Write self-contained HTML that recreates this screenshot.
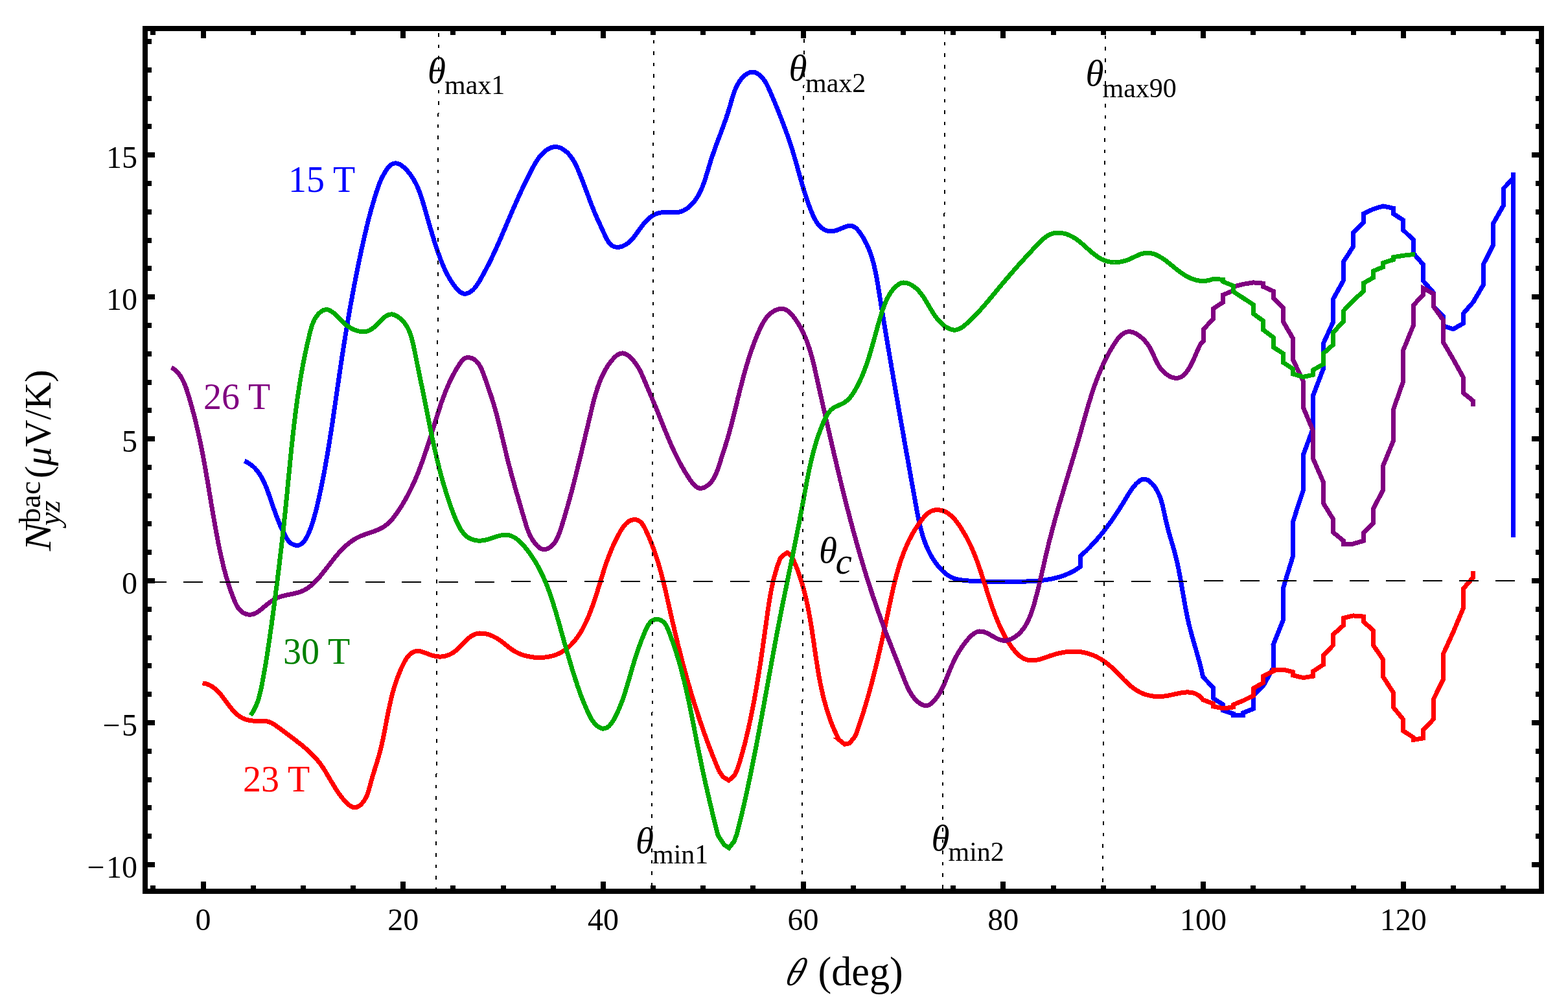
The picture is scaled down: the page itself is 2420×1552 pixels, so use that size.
<!DOCTYPE html>
<html lang="en"><head><meta charset="utf-8"><title>Nernst angular dependence</title>
<style>
html,body{margin:0;padding:0;background:#fff}
body{width:2420px;height:1552px;overflow:hidden}
svg{display:block}
text{font-family:"Liberation Serif","DejaVu Serif",serif;fill:#000}
.tk{font-size:48px}
.cl{font-size:56px}
.it{font-style:italic}
.c{fill:none;stroke-width:7;stroke-linejoin:miter;stroke-linecap:butt}
</style></head><body>
<svg width="2420" height="1552" viewBox="0 0 2420 1552">
<rect x="0" y="0" width="2420" height="1552" fill="#fff"/>
<g class="c" shape-rendering="crispEdges">
<path stroke="#0000ff" d="M377.2 711.3L380.8 712.9L384.2 714.8L387.4 717L390.4 719.4L393.2 722.1L395.8 724.9L398.2 728L400.5 731.2L402.6 734.6L404.6 738.1L406.4 741.8L408.2 745.5L409.9 749.3L411.4 753.1L412.9 757L414.3 760.9L415.7 764.8L417.1 768.7L418.4 772.5L419.6 776.3L420.9 780L422.2 783.7L423.5 787.3L424.8 791L426.1 794.6L427.5 798.2L428.9 801.9L430.4 805.5L431.9 809.2L433.5 812.9L435.3 816.6L437.1 820.4L439 824.2L441.1 828L443.3 831.7L445.8 835.1L448.7 837.9L452 839.9L455.5 841.1L458.9 841.5L462.1 840.8L465 839.3L467.6 837.1L470 834.3L472.2 830.9L474.2 827.2L476.1 823.3L477.8 819.2L479.3 815.1L480.8 811L482.1 807L483.4 803L484.6 799.1L485.7 795.2L486.7 791.3L487.7 787.5L488.7 783.6L489.6 779.8L490.5 776L491.4 772.1L492.2 768.3L493.1 764.4L493.9 760.5L494.7 756.7L495.6 752.8L496.4 748.9L497.1 745L497.9 741.1L498.7 737.2L499.4 733.3L500.2 729.4L500.9 725.5L501.6 721.6L502.3 717.7L503 713.7L503.7 709.8L504.4 705.9L505.1 701.9L505.8 698L506.4 694L507.1 690.1L507.7 686.1L508.4 682.1L509 678.2L509.6 674.2L510.2 670.3L510.9 666.3L511.5 662.3L512.1 658.3L512.7 654.4L513.3 650.4L513.9 646.4L514.5 642.4L515 638.5L515.6 634.5L516.2 630.5L516.8 626.5L517.4 622.5L517.9 618.6L518.5 614.6L519.1 610.6L519.7 606.6L520.2 602.6L520.8 598.6L521.4 594.7L522 590.7L522.5 586.7L523.1 582.7L523.7 578.8L524.3 574.8L524.9 570.8L525.5 566.9L526 562.9L526.6 558.9L527.2 555L527.8 551L528.5 547.1L529.1 543.1L529.7 539.1L530.3 535.2L530.9 531.3L531.5 527.3L532.2 523.4L532.8 519.4L533.5 515.5L534.1 511.5L534.8 507.6L535.4 503.7L536.1 499.7L536.7 495.8L537.4 491.9L538.1 487.9L538.8 484L539.4 480.1L540.1 476.1L540.8 472.2L541.5 468.3L542.3 464.4L543 460.4L543.7 456.5L544.4 452.6L545.2 448.6L545.9 444.7L546.6 440.8L547.4 436.9L548.2 432.9L548.9 429L549.7 425.1L550.5 421.2L551.3 417.2L552.1 413.3L552.9 409.4L553.7 405.4L554.5 401.5L555.3 397.6L556.2 393.6L557 389.7L557.8 385.8L558.7 381.8L559.6 377.9L560.4 374L561.3 370L562.2 366.1L563.1 362.2L564 358.2L565 354.3L565.9 350.4L566.9 346.5L567.8 342.6L568.8 338.7L569.8 334.9L570.8 331L571.9 327.1L572.9 323.3L574 319.5L575.1 315.7L576.2 311.9L577.3 308.1L578.4 304.3L579.6 300.6L580.7 296.9L582 293.2L583.2 289.5L584.6 285.8L586 282.1L587.6 278.3L589.3 274.6L591.3 270.8L593.4 267L595.8 263.1L598.4 259.4L601.2 256.2L604.1 253.7L607.2 252.2L610.4 251.8L613.7 252.3L616.9 253.6L620.2 255.6L623.3 258.2L626.4 261.1L629.3 264.2L632 267.5L634.4 270.8L636.7 274.3L638.9 277.8L640.8 281.3L642.7 284.9L644.4 288.6L645.9 292.3L647.4 296.1L648.8 299.9L650.1 303.7L651.3 307.5L652.5 311.4L653.7 315.2L654.8 319.1L655.9 322.9L657 326.8L658.1 330.6L659.2 334.5L660.3 338.3L661.4 342.1L662.5 346L663.6 349.8L664.7 353.6L665.9 357.4L667 361.2L668.2 365L669.3 368.8L670.5 372.6L671.7 376.4L673 380.2L674.2 384L675.5 387.7L676.8 391.5L678.2 395.3L679.6 399L681 402.8L682.5 406.5L684 410.2L685.7 413.9L687.4 417.6L689.2 421.2L691 424.8L693 428.3L695.1 431.8L697.3 435.3L699.6 438.7L702.1 442.1L704.7 445.3L707.4 448.3L710.3 450.7L713.3 452.4L716.6 453.3L720 453L723.4 451.8L726.8 449.8L729.9 447.2L732.7 444.3L735.2 441.1L737.5 437.7L739.7 434.2L741.8 430.6L743.8 426.9L745.8 423.3L747.8 419.7L749.7 416L751.6 412.4L753.5 408.8L755.3 405.1L757.1 401.5L758.9 397.9L760.6 394.2L762.3 390.6L764 386.9L765.7 383.3L767.3 379.6L769 376L770.6 372.3L772.2 368.7L773.8 365L775.3 361.4L776.9 357.7L778.5 354.1L780 350.4L781.6 346.8L783.1 343.1L784.7 339.5L786.2 335.8L787.8 332.2L789.3 328.6L790.9 324.9L792.5 321.3L794.1 317.7L795.7 314L797.3 310.4L798.9 306.8L800.6 303.2L802.2 299.5L803.9 295.9L805.6 292.3L807.3 288.7L809.1 285L810.8 281.4L812.6 277.8L814.4 274.1L816.2 270.4L818.1 266.8L819.9 263.1L821.8 259.4L823.8 255.8L825.8 252.2L828 248.7L830.2 245.3L832.6 242.1L835.1 239.1L837.9 236.2L840.8 233.6L843.9 231.2L847.3 229.2L850.9 227.6L854.6 226.6L858.4 226.5L862.2 227.2L865.9 228.6L869.4 230.6L872.6 232.9L875.6 235.4L878.3 238.3L880.8 241.3L883.1 244.6L885.3 248.1L887.3 251.7L889.1 255.3L890.9 259.1L892.5 263L894.1 266.8L895.7 270.6L897.2 274.5L898.7 278.3L900.2 282L901.6 285.8L903 289.6L904.4 293.3L905.8 297L907.2 300.7L908.6 304.4L909.9 308.1L911.3 311.7L912.7 315.4L914.1 319L915.6 322.6L917 326.2L918.5 329.7L920.1 333.3L921.6 336.9L923.2 340.4L924.9 344L926.6 347.7L928.3 351.4L930.1 355.3L931.9 359.3L933.8 363.4L935.8 367.5L938 371.4L940.3 374.9L942.9 377.8L945.9 379.8L949.1 380.9L952.5 381.4L956 381.1L959.5 380.3L963 378.9L966.4 377L969.5 374.8L972.5 372.2L975.3 369.3L977.9 366.2L980.4 363L982.9 359.6L985.3 356.2L987.8 352.7L990.3 349.3L992.9 346L995.6 342.8L998.4 339.8L1001.4 337L1004.5 334.6L1007.8 332.4L1011.3 330.6L1014.9 329.2L1018.7 328.2L1022.6 327.7L1026.6 327.5L1030.8 327.6L1034.9 327.8L1039 328L1043.1 327.9L1047 327.4L1050.8 326.5L1054.4 325L1057.8 323.2L1061.1 321L1064.1 318.5L1067 315.8L1069.7 312.9L1072.2 309.8L1074.5 306.5L1076.7 303.2L1078.6 299.8L1080.5 296.2L1082.2 292.6L1083.8 288.9L1085.2 285.2L1086.6 281.4L1087.9 277.5L1089.2 273.6L1090.4 269.7L1091.6 265.8L1092.8 261.9L1093.9 258L1095.1 254.1L1096.3 250.2L1097.5 246.3L1098.8 242.5L1100.1 238.7L1101.4 234.9L1102.7 231.2L1104.1 227.5L1105.4 223.7L1106.8 220L1108.2 216.3L1109.6 212.6L1111 208.9L1112.4 205.2L1113.7 201.5L1115.1 197.8L1116.5 194.1L1117.8 190.3L1119.2 186.6L1120.5 182.8L1121.7 179L1123 175.2L1124.2 171.4L1125.4 167.5L1126.6 163.6L1127.7 159.6L1128.8 155.7L1130 151.8L1131.2 147.8L1132.5 144L1133.8 140.2L1135.4 136.4L1137 132.8L1138.9 129.3L1141 126L1143.3 122.7L1145.9 119.7L1148.8 116.9L1151.9 114.5L1155.2 112.6L1158.6 111.4L1162.2 111.1L1165.7 111.8L1169.3 113.5L1172.7 116L1175.8 119L1178.5 122.3L1180.8 125.7L1182.9 129.2L1184.7 132.9L1186.4 136.5L1188 140.2L1189.6 143.8L1191.2 147.5L1192.8 151.2L1194.3 154.8L1195.9 158.5L1197.4 162.2L1198.9 165.8L1200.4 169.5L1201.8 173.2L1203.3 176.9L1204.8 180.6L1206.2 184.3L1207.6 188.1L1209.1 191.8L1210.5 195.6L1211.9 199.4L1213.3 203.2L1214.7 207L1216 210.8L1217.4 214.6L1218.7 218.4L1219.9 222.2L1221.2 226L1222.4 229.8L1223.5 233.7L1224.7 237.5L1225.8 241.3L1226.9 245.1L1228 248.9L1229.1 252.7L1230.2 256.5L1231.2 260.4L1232.3 264.2L1233.4 268L1234.4 271.8L1235.5 275.6L1236.6 279.5L1237.7 283.3L1238.8 287.1L1240 291L1241.2 294.8L1242.4 298.6L1243.6 302.5L1244.9 306.3L1246.2 310.2L1247.6 314L1249 317.9L1250.4 321.7L1252 325.6L1253.6 329.4L1255.2 333.3L1257 337L1259 340.5L1261.1 343.9L1263.4 347L1266 349.8L1268.9 352.2L1272 354.3L1275.5 355.8L1279.1 356.8L1283 357L1286.9 356.5L1290.9 355.4L1295.1 353.9L1299.2 352.1L1303.3 350.4L1307.3 349L1311.1 348.3L1314.7 348.4L1317.9 349.7L1320.9 351.8L1323.6 354.5L1326.2 357.6L1328.5 361L1330.8 364.4L1332.8 367.8L1334.8 371.3L1336.6 374.9L1338.4 378.4L1340 382.1L1341.5 385.7L1342.9 389.5L1344.2 393.2L1345.4 397L1346.6 400.8L1347.7 404.6L1348.7 408.5L1349.6 412.4L1350.5 416.3L1351.3 420.2L1352.1 424.2L1352.9 428.1L1353.6 432.1L1354.3 436.1L1355 440L1355.6 444L1356.3 448L1356.9 452L1357.5 456L1358.2 460L1358.8 463.9L1359.5 467.9L1360.1 471.9L1360.8 475.9L1361.4 479.8L1362.1 483.8L1362.7 487.8L1363.4 491.7L1364.1 495.7L1364.7 499.7L1365.4 503.6L1366 507.6L1366.7 511.5L1367.3 515.5L1368 519.5L1368.7 523.4L1369.3 527.4L1370 531.3L1370.7 535.3L1371.3 539.2L1372 543.1L1372.7 547.1L1373.3 551L1374 555L1374.7 558.9L1375.4 562.8L1376 566.8L1376.7 570.7L1377.4 574.7L1378.1 578.6L1378.7 582.5L1379.4 586.5L1380.1 590.4L1380.8 594.3L1381.4 598.3L1382.1 602.2L1382.8 606.1L1383.5 610.1L1384.2 614L1384.9 617.9L1385.6 621.9L1386.2 625.8L1386.9 629.7L1387.6 633.7L1388.3 637.6L1389 641.5L1389.7 645.5L1390.4 649.4L1391.1 653.3L1391.8 657.3L1392.5 661.2L1393.2 665.1L1393.9 669.1L1394.6 673L1395.2 676.9L1395.9 680.9L1396.6 684.8L1397.3 688.7L1398 692.7L1398.7 696.6L1399.5 700.6L1400.2 704.5L1400.9 708.5L1401.6 712.4L1402.3 716.3L1403 720.3L1403.7 724.2L1404.4 728.2L1405.1 732.1L1405.8 736.1L1406.5 740.1L1407.2 744L1407.9 748L1408.6 751.9L1409.4 755.9L1410.1 759.9L1410.8 763.8L1411.5 767.8L1412.2 771.8L1412.9 775.7L1413.6 779.7L1414.4 783.7L1415.1 787.7L1415.8 791.6L1416.6 795.6L1417.4 799.5L1418.2 803.5L1419.1 807.4L1420 811.3L1421 815.2L1422 819L1423.1 822.9L1424.2 826.7L1425.4 830.5L1426.7 834.2L1428 837.9L1429.5 841.6L1431 845.2L1432.7 848.8L1434.4 852.3L1436.2 855.8L1438.2 859.3L1440.3 862.6L1442.5 866L1444.8 869.3L1447.3 872.5L1449.9 875.6L1452.6 878.6L1455.5 881.5L1458.5 884.2L1461.7 886.7L1465.1 888.8L1468.6 890.7L1472.2 892.2L1476 893.4L1479.9 894.3L1483.9 894.9L1487.9 895.4L1492 895.8L1496 896.1L1500.1 896.3L1504.1 896.5L1508.2 896.7L1512.2 896.9L1516.2 897L1520.2 897.1L1524.2 897.2L1528.2 897.3L1532.2 897.3L1536.2 897.4L1540.2 897.4L1544.2 897.4L1548.1 897.4L1552.1 897.4L1556.1 897.3L1560.1 897.3L1564.1 897.3L1568.1 897.3L1572.1 897.2L1576 897.2L1580 897.1L1584 897L1588 896.9L1592 896.7L1596 896.4L1600 896.2L1604 895.8L1607.9 895.4L1611.9 894.9L1615.8 894.3L1619.8 893.7L1623.7 892.9L1627.6 892L1631.5 891.1L1635.4 890L1639.2 888.8L1643 887.4L1646.7 885.9L1650.4 884.3L1654 882.6L1657.5 880.7L1660.9 878.6L1664.2 876.4L1667.4 874L1667.4 858L1670.5 855.2L1673.4 852.5L1676.4 849.7L1679.2 846.8L1682.1 844L1684.8 841.1L1687.6 838.1L1690.2 835.2L1692.9 832.2L1695.5 829.2L1698.1 826.1L1700.6 823.1L1703.1 820L1705.5 816.8L1707.9 813.7L1710.3 810.5L1712.7 807.3L1715 804.1L1717.3 800.8L1719.5 797.5L1721.8 794.2L1724 790.9L1726.2 787.5L1728.3 784.2L1730.5 780.7L1732.6 777.3L1734.7 773.9L1736.8 770.4L1738.9 766.9L1741 763.4L1743.2 760L1745.5 756.5L1747.9 753.1L1750.5 749.8L1753.3 746.6L1756.4 743.7L1759.6 741.2L1762.9 739.6L1766.3 739.2L1769.5 739.9L1772.7 741.5L1775.7 743.8L1778.5 746.5L1781 749.5L1783.3 752.7L1785.3 756L1787.1 759.5L1788.8 763.1L1790.3 766.8L1791.6 770.6L1792.8 774.5L1793.9 778.5L1794.9 782.5L1795.8 786.5L1796.7 790.6L1797.6 794.7L1798.4 798.7L1799.3 802.8L1800.3 806.8L1801.3 810.7L1802.3 814.7L1803.3 818.6L1804.4 822.4L1805.5 826.2L1806.6 830.1L1807.7 833.9L1808.8 837.7L1809.9 841.5L1811 845.2L1812.1 849L1813.1 852.8L1814.1 856.7L1815.1 860.5L1816 864.3L1816.9 868.2L1817.7 872.1L1818.6 876L1819.4 879.9L1820.1 883.9L1820.9 887.8L1821.6 891.8L1822.3 895.7L1823 899.7L1823.7 903.7L1824.4 907.7L1825.1 911.7L1825.8 915.6L1826.5 919.6L1827.2 923.6L1827.9 927.6L1828.6 931.6L1829.3 935.6L1830 939.5L1830.8 943.5L1831.6 947.4L1832.4 951.4L1833.2 955.3L1834.1 959.2L1835 963.1L1836 967L1837 970.9L1838 974.8L1839 978.6L1840.1 982.5L1841.2 986.3L1842.3 990.1L1843.4 993.9L1844.5 997.8L1845.6 1001.6L1846.7 1005.4L1847.8 1009.3L1848.9 1013.1L1849.9 1017L1851 1020.8L1852 1024.7L1853 1028.6L1853.9 1032.5L1854.9 1036.4L1855.7 1040.4L1856.6 1044.4L1872.4 1060.7L1872.4 1077.1L1887.9 1087.2L1887.9 1096L1903.3 1101.1L1903.3 1103.6L1918.7 1103.6L1918.7 1099.8L1934.2 1093.5L1934.2 1073.3L1949.6 1058.2L1965 1030.5L1965 995.2L1980.5 956.2L1980.5 907L1995.9 856.6L1995.9 803.7L2011.4 755.9L2011.4 701.7L2026.8 660.1L2026.8 609.7L2042.2 569.4L2042.2 530.4L2057.7 496.4L2057.7 461.1L2073.1 433.4L2073.1 404.4L2088.5 380.5L2088.5 359.1L2104 344L2104 330.1L2119.4 322.5L2134.8 318L2150.3 321.3L2150.3 329.6L2165.7 339.7L2165.7 354.8L2181.1 369.9L2181.1 390.6L2196.6 408.2L2196.6 433.4L2212 451L2212 472.4L2227.4 487.5L2227.4 502.7L2242.9 507.7L2258.3 498.9L2258.3 483.8L2273.7 466.1L2289.2 439.7L2289.2 408.2L2304.6 378L2304.6 344.7L2320.1 317.5L2320.1 291L2335.5 275.2L2335.5 265.8"/>
<path stroke="#0000ff" d="M2335.5 265.8L2335.5 829"/>
<path stroke="#ff0000" d="M312.5 1053.9L316.6 1054.6L320.4 1055.7L324 1057.3L327.4 1059.2L330.5 1061.4L333.5 1063.9L336.4 1066.7L339.1 1069.6L341.7 1072.7L344.2 1076L346.7 1079.3L349.2 1082.6L351.7 1086L354.2 1089.3L356.7 1092.5L359.3 1095.6L362 1098.6L364.9 1101.3L367.8 1103.8L371 1106L374.4 1107.9L377.9 1109.4L381.7 1110.6L385.6 1111.5L389.6 1112L393.7 1112.3L397.9 1112.3L402.2 1112.1L406.3 1112.1L410.3 1112.4L414 1113.3L417.6 1114.6L420.9 1116.3L424.2 1118.4L427.4 1120.6L430.6 1122.9L433.8 1125.3L437 1127.7L440.2 1130.1L443.5 1132.5L446.7 1134.9L450 1137.4L453.2 1139.8L456.5 1142.3L459.7 1144.8L462.9 1147.3L466.1 1149.8L469.2 1152.4L472.2 1155L475.3 1157.7L478.2 1160.4L481.1 1163.2L483.9 1166L486.6 1168.9L489.2 1171.9L491.7 1174.9L494.1 1178L496.4 1181.2L498.6 1184.4L500.7 1187.7L502.8 1191.1L504.8 1194.5L506.8 1197.9L508.8 1201.3L510.8 1204.8L512.9 1208.2L514.9 1211.7L517 1215.1L519.2 1218.6L521.5 1222L523.9 1225.4L526.3 1228.7L529 1232L531.7 1235.2L534.7 1238.3L537.7 1241.1L540.9 1243.5L544.1 1245.1L547.3 1245.8L550.5 1245.3L553.7 1243.8L556.7 1241.5L559.5 1238.5L562.1 1235.1L564.3 1231.3L566.2 1227.5L567.7 1223.7L568.9 1219.8L570 1216L571 1212.2L572 1208.3L573.1 1204.5L574.2 1200.6L575.3 1196.8L576.5 1192.9L577.7 1189L578.9 1185.2L580.1 1181.3L581.3 1177.4L582.5 1173.5L583.6 1169.7L584.8 1165.8L585.8 1161.9L586.9 1158L587.8 1154.1L588.8 1150.2L589.7 1146.3L590.5 1142.5L591.4 1138.6L592.2 1134.7L593 1130.8L593.7 1126.9L594.5 1123L595.2 1119.1L596 1115.2L596.7 1111.3L597.5 1107.4L598.2 1103.5L599 1099.6L599.8 1095.7L600.6 1091.8L601.5 1087.9L602.3 1084L603.2 1080.2L604.1 1076.3L605.1 1072.4L606.1 1068.5L607.2 1064.7L608.3 1060.8L609.5 1056.9L610.8 1053.1L612.1 1049.2L613.5 1045.4L614.9 1041.5L616.5 1037.7L618.1 1033.8L619.8 1030L621.6 1026.2L623.5 1022.4L625.5 1018.8L627.7 1015.3L630 1012.2L632.5 1009.5L635.3 1007.3L638.3 1005.6L641.5 1004.6L645 1004.4L648.7 1004.9L652.7 1006L656.8 1007.4L661 1009L665.2 1010.5L669.4 1011.8L673.4 1012.6L677.4 1013L681.2 1013L684.9 1012.6L688.5 1011.8L692 1010.6L695.4 1009.1L698.8 1007.2L702 1005L705.2 1002.4L708.2 999.6L711.2 996.5L714.2 993.4L717.2 990.2L720.3 987.2L723.4 984.4L726.6 981.9L729.9 979.9L733.4 978.4L737.1 977.4L740.8 977L744.7 977.1L748.6 977.6L752.5 978.5L756.4 979.7L760.2 981.3L763.9 983.1L767.4 985.1L770.8 987.3L774.1 989.6L777.2 992L780.2 994.4L783.2 996.9L786.2 999.3L789.3 1001.6L792.6 1003.7L796 1005.7L799.5 1007.5L803.3 1009.1L807.1 1010.5L811.1 1011.6L815.1 1012.6L819.2 1013.4L823.4 1014L827.5 1014.3L831.7 1014.5L835.9 1014.4L840 1014.1L844.1 1013.6L848.1 1012.9L852.1 1012L855.9 1010.9L859.5 1009.5L863.1 1007.9L866.5 1006.2L869.7 1004.2L872.9 1002L875.9 999.7L878.8 997.2L881.5 994.5L884.2 991.7L886.7 988.8L889.2 985.7L891.5 982.5L893.7 979.2L895.9 975.8L898 972.3L899.9 968.7L901.8 965.1L903.6 961.4L905.4 957.6L907.1 953.8L908.7 950L910.2 946.2L911.7 942.3L913.1 938.5L914.5 934.7L915.9 930.8L917.2 927L918.4 923.2L919.7 919.4L920.9 915.6L922.1 911.8L923.2 908.1L924.4 904.3L925.6 900.5L926.7 896.8L927.9 893L929 889.3L930.2 885.6L931.4 881.8L932.6 878.1L933.8 874.4L935.1 870.6L936.3 866.9L937.7 863.2L939.1 859.4L940.5 855.7L942 852L943.5 848.2L945.1 844.5L946.8 840.7L948.5 837L950.3 833.2L952.2 829.4L954.2 825.7L956.3 821.9L958.4 818.1L960.7 814.5L963.2 811.2L965.9 808.1L968.7 805.6L971.8 803.5L975.1 802.2L978.7 801.6L982.3 801.8L985.5 803L988.4 805L990.8 807.7L993 810.8L994.9 814.4L996.8 818.1L998.5 821.9L1000.2 825.7L1001.9 829.4L1003.4 833.2L1005 837L1006.5 840.8L1007.9 844.6L1009.3 848.5L1010.6 852.3L1011.9 856.1L1013.2 860L1014.4 863.8L1015.6 867.6L1016.8 871.5L1017.9 875.3L1019 879.2L1020.1 883.1L1021.1 886.9L1022.1 890.8L1023.1 894.7L1024.1 898.5L1025 902.4L1025.9 906.3L1026.9 910.2L1027.8 914.1L1028.7 918L1029.6 921.9L1030.4 925.7L1031.3 929.6L1032.2 933.5L1033 937.4L1033.9 941.3L1034.8 945.2L1035.7 949.1L1036.6 953L1037.4 956.9L1038.3 960.8L1039.2 964.7L1040.2 968.6L1041.1 972.5L1042 976.4L1042.9 980.3L1043.9 984.2L1044.8 988.1L1045.8 992L1046.7 995.9L1047.7 999.7L1048.7 1003.6L1049.7 1007.5L1050.7 1011.4L1051.7 1015.3L1052.7 1019.2L1053.7 1023L1054.8 1026.9L1055.8 1030.8L1056.9 1034.7L1057.9 1038.5L1059 1042.4L1060.1 1046.3L1061.2 1050.1L1062.3 1054L1063.4 1057.8L1064.5 1061.7L1065.7 1065.5L1066.8 1069.4L1068 1073.2L1069.1 1077.1L1070.3 1080.9L1071.5 1084.7L1072.7 1088.6L1073.9 1092.4L1075.1 1096.2L1076.4 1100L1077.6 1103.8L1078.9 1107.6L1080.1 1111.4L1081.4 1115.2L1082.7 1119L1084 1122.8L1085.4 1126.6L1086.7 1130.3L1088 1134.1L1089.4 1137.9L1090.8 1141.6L1092.2 1145.4L1093.6 1149.1L1095 1152.9L1096.4 1156.6L1097.9 1160.4L1099.3 1164.1L1100.8 1167.8L1102.3 1171.5L1103.8 1175.2L1105.3 1178.9L1106.8 1182.6L1108.4 1186.3L1109.9 1190L1109.9 1189.9L1116.2 1198.7L1124.9 1203.9L1133.7 1196.2L1138.7 1185L1138.7 1184.9L1139.9 1181L1141.1 1177.2L1142.3 1173.3L1143.4 1169.5L1144.5 1165.7L1145.5 1161.9L1146.6 1158.1L1147.6 1154.4L1148.6 1150.6L1149.6 1146.8L1150.5 1143.1L1151.4 1139.3L1152.4 1135.6L1153.2 1131.8L1154.1 1128L1155 1124.3L1155.8 1120.5L1156.7 1116.7L1157.5 1112.8L1158.3 1109L1159.1 1105.2L1159.9 1101.4L1160.7 1097.5L1161.4 1093.6L1162.2 1089.8L1162.9 1085.9L1163.7 1082L1164.4 1078.1L1165.1 1074.2L1165.8 1070.3L1166.5 1066.4L1167.2 1062.5L1167.8 1058.6L1168.5 1054.7L1169.2 1050.7L1169.8 1046.8L1170.5 1042.8L1171.1 1038.9L1171.7 1034.9L1172.3 1031L1173 1027L1173.6 1023.1L1174.2 1019.1L1174.8 1015.1L1175.4 1011.1L1175.9 1007.2L1176.5 1003.2L1177.1 999.2L1177.7 995.2L1178.2 991.2L1178.8 987.2L1179.4 983.2L1179.9 979.2L1180.5 975.2L1181 971.2L1181.6 967.3L1182.2 963.3L1182.7 959.3L1183.3 955.3L1183.8 951.3L1184.4 947.3L1184.9 943.3L1185.5 939.3L1186.1 935.3L1186.7 931.4L1187.3 927.4L1188 923.4L1188.7 919.5L1189.4 915.5L1190.1 911.6L1190.9 907.7L1191.7 903.7L1192.6 899.8L1193.5 895.9L1194.4 892.1L1195.4 888.2L1196.5 884.4L1197.6 880.5L1198.7 876.7L1200 872.9L1201.3 869.1L1202.7 865.4L1204.1 861.6L1204.1 861.6L1209.1 856.6L1215 852.5L1220 855.8L1225 865L1225 865L1226.6 868.7L1228.2 872.4L1229.7 876.1L1231.1 879.9L1232.5 883.7L1233.8 887.5L1235.1 891.3L1236.3 895.1L1237.5 898.9L1238.6 902.8L1239.7 906.6L1240.8 910.5L1241.8 914.4L1242.8 918.3L1243.7 922.2L1244.6 926.1L1245.4 930L1246.3 934L1247.1 937.9L1247.9 941.8L1248.6 945.8L1249.3 949.8L1250 953.7L1250.7 957.7L1251.4 961.7L1252 965.7L1252.7 969.6L1253.3 973.6L1253.9 977.6L1254.5 981.6L1255.1 985.6L1255.7 989.6L1256.3 993.6L1256.8 997.6L1257.4 1001.6L1258 1005.6L1258.6 1009.6L1259.2 1013.6L1259.8 1017.6L1260.4 1021.6L1261.1 1025.6L1261.7 1029.6L1262.4 1033.6L1263 1037.5L1263.7 1041.5L1264.4 1045.5L1265.2 1049.4L1265.9 1053.4L1266.7 1057.3L1267.6 1061.2L1268.4 1065.2L1269.3 1069.1L1270.2 1073L1271.2 1076.9L1272.2 1080.8L1273.2 1084.6L1274.3 1088.5L1275.4 1092.4L1276.5 1096.2L1277.8 1100L1279 1103.8L1280.3 1107.6L1281.7 1111.4L1283.1 1115.2L1284.6 1118.9L1286.1 1122.6L1287.7 1126.4L1289.4 1130.1L1291.1 1133.7L1292.9 1137.4L1294.8 1141L1294.7 1141L1303.6 1148.2L1311.1 1146.8L1320.2 1135.3L1320.2 1135.3L1321.6 1131.5L1322.9 1127.7L1324.3 1123.9L1325.6 1120.1L1326.8 1116.3L1328.1 1112.5L1329.3 1108.7L1330.6 1104.9L1331.8 1101.1L1333 1097.3L1334.1 1093.5L1335.3 1089.6L1336.4 1085.8L1337.6 1082L1338.7 1078.1L1339.8 1074.3L1340.9 1070.5L1341.9 1066.6L1343 1062.8L1344 1059L1345 1055.1L1346.1 1051.3L1347.1 1047.4L1348.1 1043.5L1349 1039.7L1350 1035.8L1351 1032L1351.9 1028.1L1352.9 1024.2L1353.8 1020.3L1354.7 1016.5L1355.6 1012.6L1356.5 1008.7L1357.4 1004.8L1358.3 1000.9L1359.2 997L1360.1 993.1L1361 989.2L1361.8 985.3L1362.7 981.4L1363.5 977.5L1364.4 973.6L1365.2 969.7L1366.1 965.8L1366.9 961.8L1367.8 957.9L1368.6 954L1369.4 950.1L1370.3 946.1L1371.1 942.2L1371.9 938.2L1372.7 934.3L1373.6 930.3L1374.4 926.4L1375.3 922.4L1376.1 918.5L1377 914.5L1377.9 910.6L1378.8 906.6L1379.7 902.7L1380.6 898.8L1381.6 894.9L1382.6 891L1383.6 887.1L1384.7 883.2L1385.8 879.3L1386.9 875.5L1388.1 871.7L1389.3 867.9L1390.6 864.1L1391.9 860.3L1393.2 856.6L1394.6 852.8L1396.1 849.1L1397.6 845.5L1399.2 841.8L1400.8 838.2L1402.5 834.6L1404.3 831.1L1406.1 827.5L1408 824.1L1410 820.6L1412.1 817.2L1414.2 813.8L1416.4 810.5L1418.7 807.2L1421.1 803.9L1423.6 800.7L1426.2 797.6L1428.9 794.7L1431.8 792L1435 789.8L1438.4 788.1L1442.1 787L1446 786.6L1450.1 786.9L1454 787.7L1457.7 788.9L1461.2 790.7L1464.4 792.8L1467.5 795.2L1470.4 797.9L1473.2 800.9L1475.8 804.1L1478.3 807.4L1480.6 810.8L1482.9 814.2L1485.1 817.7L1487.2 821.2L1489.3 824.7L1491.3 828.2L1493.2 831.8L1495 835.4L1496.8 839L1498.5 842.6L1500.1 846.3L1501.7 849.9L1503.2 853.6L1504.7 857.3L1506.2 861L1507.6 864.7L1509 868.5L1510.3 872.2L1511.6 876L1512.9 879.7L1514.2 883.5L1515.4 887.3L1516.7 891.1L1517.9 894.9L1519.1 898.7L1520.3 902.5L1521.5 906.3L1522.7 910.1L1523.9 913.9L1525.1 917.7L1526.4 921.5L1527.6 925.3L1528.9 929L1530.1 932.8L1531.4 936.6L1532.8 940.4L1534.1 944.1L1535.5 947.9L1537 951.6L1538.5 955.3L1540 959L1541.6 962.7L1543.2 966.4L1544.9 970L1546.7 973.6L1548.5 977.2L1550.4 980.8L1552.4 984.3L1554.4 987.8L1556.6 991.2L1558.8 994.6L1561.2 998L1563.7 1001.2L1566.2 1004.4L1569 1007.4L1571.8 1010.3L1574.8 1012.8L1578 1014.9L1581.4 1016.7L1585 1017.9L1588.8 1018.6L1592.7 1018.8L1596.6 1018.6L1600.6 1018.1L1604.5 1017.2L1608.4 1016.1L1612.3 1014.7L1616.1 1013.4L1620 1012L1623.9 1010.8L1627.8 1009.6L1631.7 1008.5L1635.6 1007.6L1639.6 1006.8L1643.5 1006.1L1647.5 1005.6L1651.5 1005.2L1655.4 1005L1659.3 1005L1663.3 1005.2L1667.2 1005.6L1671 1006.2L1674.9 1007L1678.7 1008L1682.5 1009.2L1686.2 1010.6L1689.9 1012.1L1693.5 1013.9L1697 1015.7L1700.5 1017.8L1703.9 1020L1707.2 1022.4L1710.4 1024.9L1713.5 1027.5L1716.5 1030.3L1719.5 1033.1L1722.4 1036L1725.3 1039L1728.2 1042L1731.1 1044.9L1733.9 1047.9L1736.8 1050.7L1739.7 1053.6L1742.7 1056.3L1745.7 1058.8L1748.8 1061.3L1751.9 1063.6L1755.2 1065.6L1758.5 1067.5L1762 1069.2L1765.6 1070.6L1769.2 1071.8L1772.9 1072.8L1776.7 1073.6L1780.5 1074.2L1784.4 1074.5L1788.4 1074.6L1792.4 1074.5L1796.4 1074.1L1800.5 1073.6L1804.5 1072.8L1808.6 1071.9L1812.7 1071L1816.7 1070.1L1820.8 1069.3L1824.7 1068.6L1828.7 1068.1L1832.5 1067.9L1836.3 1068.1L1840 1068.6L1843.6 1069.6L1847 1071.2L1850.4 1073.3L1853.6 1076.1L1856.6 1079.7L1872.4 1085.4L1872.4 1089.7L1887.9 1093L1903.3 1091L1903.3 1087.2L1918.7 1080.9L1934.2 1073.3L1934.2 1062L1949.6 1053.2L1949.6 1043.1L1965 1035.5L1965 1033L1980.5 1033L1995.9 1036.8L1995.9 1041.8L2011.4 1045.6L2026.8 1043.1L2026.8 1035.5L2042.2 1025.5L2042.2 1011.6L2057.7 995.2L2057.7 978.8L2073.1 965L2073.1 953.6L2088.5 949.9L2104 951.1L2104 958.7L2119.4 972.5L2119.4 995.2L2134.8 1017.9L2134.8 1044.4L2150.3 1068.3L2150.3 1091L2165.7 1109.9L2165.7 1127.5L2181.1 1137.6L2181.1 1141.4L2196.6 1138.8L2196.6 1126.2L2212 1109.9L2212 1079.6L2227.4 1048.1L2227.4 1009.1L2242.9 975.1L2258.3 938.5L2258.3 908.3L2273.7 890.7L2273.7 880.6"/>
<path stroke="#800080" d="M264.6 566.9L268.1 569.2L271.2 571.7L274 574.4L276.5 577.4L278.8 580.6L280.8 584L282.6 587.5L284.3 591.1L285.8 594.8L287.2 598.6L288.5 602.5L289.7 606.3L290.9 610.2L292.1 614.1L293.2 618L294.3 621.8L295.4 625.7L296.5 629.6L297.6 633.5L298.6 637.3L299.6 641.2L300.6 645.1L301.6 649L302.5 652.9L303.4 656.7L304.4 660.6L305.3 664.5L306.1 668.4L307 672.3L307.8 676.2L308.7 680.1L309.5 684L310.3 687.9L311.1 691.8L311.8 695.7L312.6 699.6L313.4 703.5L314.1 707.5L314.8 711.4L315.5 715.3L316.3 719.3L317 723.2L317.7 727.2L318.3 731.1L319 735.1L319.7 739L320.4 743L321.1 746.9L321.7 750.9L322.4 754.8L323 758.8L323.7 762.8L324.4 766.7L325 770.7L325.7 774.7L326.3 778.6L327 782.6L327.7 786.5L328.3 790.5L329 794.4L329.7 798.4L330.4 802.3L331.1 806.3L331.8 810.2L332.5 814.2L333.2 818.1L333.9 822L334.7 825.9L335.4 829.9L336.2 833.8L336.9 837.7L337.7 841.6L338.5 845.5L339.3 849.4L340.2 853.2L341 857.1L341.9 861L342.8 864.9L343.7 868.7L344.6 872.6L345.6 876.5L346.6 880.3L347.7 884.2L348.7 888L349.9 891.9L351 895.7L352.2 899.6L353.4 903.5L354.7 907.3L356 911.2L357.4 915L358.9 918.9L360.3 922.8L361.9 926.6L363.5 930.4L365.3 934.1L367.3 937.5L369.7 940.6L372.3 943.2L375.4 945.4L378.9 947L382.7 948L386.6 948.2L390.5 947.6L394.2 946.2L397.7 944.2L401.1 941.7L404.3 939.1L407.5 936.4L410.7 933.8L413.8 931.2L417 928.8L420.3 926.6L423.6 924.5L427.1 922.7L430.7 921.2L434.4 920L438.3 919L442.3 918.1L446.3 917.3L450.3 916.5L454.3 915.6L458.2 914.7L462.1 913.6L465.8 912.2L469.4 910.6L472.8 908.6L476.1 906.4L479.2 904L482.3 901.4L485.2 898.7L488 895.8L490.7 892.8L493.4 889.8L496 886.7L498.6 883.5L501.1 880.4L503.5 877.2L506 874L508.5 870.8L510.9 867.6L513.4 864.5L515.9 861.3L518.4 858.2L521 855.2L523.6 852.2L526.3 849.3L529 846.4L531.9 843.7L534.9 841L537.9 838.5L541 836L544.3 833.8L547.7 831.6L551.1 829.7L554.7 827.9L558.4 826.3L562.2 824.9L566 823.5L569.9 822.2L573.8 820.9L577.6 819.5L581.4 818.1L585 816.5L588.6 814.8L592 812.8L595.2 810.6L598.3 808.1L601.1 805.4L603.9 802.6L606.5 799.5L609 796.4L611.4 793.1L613.8 789.8L616 786.4L618.2 783L620.4 779.6L622.4 776.1L624.5 772.6L626.5 769.1L628.4 765.6L630.3 762.1L632.1 758.5L633.9 754.9L635.6 751.3L637.3 747.7L639 744.1L640.6 740.4L642.1 736.7L643.7 733.1L645.2 729.4L646.7 725.6L648.1 721.9L649.5 718.2L650.9 714.4L652.3 710.7L653.6 706.9L654.9 703.1L656.2 699.3L657.5 695.5L658.8 691.7L660 687.9L661.3 684.1L662.5 680.3L663.7 676.5L664.9 672.7L666.1 668.8L667.3 665L668.5 661.2L669.7 657.4L670.8 653.5L672 649.7L673.2 645.9L674.4 642.1L675.6 638.3L676.9 634.5L678.1 630.7L679.4 626.9L680.6 623.1L681.9 619.4L683.3 615.6L684.7 611.8L686.1 608.1L687.5 604.4L689 600.7L690.6 597L692.2 593.3L693.8 589.6L695.6 586L697.4 582.4L699.2 578.8L701.1 575.2L703.1 571.6L705.2 568.1L707.4 564.5L709.6 561L712 557.7L714.6 554.7L717.6 552.6L721 551.6L724.8 551.7L728.4 552.7L731.7 554.3L734.6 556.6L737.2 559.4L739.5 562.6L741.6 566.2L743.4 570L745.1 574L746.7 578.2L748.1 582.3L749.5 586.4L750.9 590.4L752.2 594.2L753.6 598L754.9 601.8L756.1 605.5L757.4 609.1L758.6 612.8L759.8 616.4L760.9 620.1L762 623.8L763.1 627.6L764.2 631.3L765.3 635.1L766.3 638.9L767.3 642.8L768.3 646.6L769.3 650.5L770.3 654.4L771.3 658.3L772.2 662.3L773.2 666.2L774.1 670.1L775 674.1L776 678L776.9 682L777.8 685.9L778.8 689.9L779.7 693.8L780.7 697.7L781.6 701.7L782.6 705.6L783.6 709.4L784.5 713.3L785.5 717.2L786.6 721.1L787.6 724.9L788.6 728.8L789.6 732.6L790.7 736.4L791.7 740.3L792.8 744.1L793.8 747.9L794.9 751.7L796 755.6L797.1 759.4L798.2 763.2L799.3 767L800.4 770.9L801.5 774.7L802.6 778.5L803.7 782.4L804.9 786.2L806 790.1L807.1 794L808.3 797.8L809.4 801.7L810.6 805.6L811.8 809.5L813 813.4L814.4 817.2L815.9 821L817.5 824.7L819.3 828.3L821.3 831.9L823.5 835.3L826 838.6L828.7 841.7L831.7 844.5L835 846.6L838.4 847.8L841.9 847.7L845.4 846.4L848.7 844.5L851.6 842.1L854.2 839.4L856.5 836.4L858.5 833.1L860.3 829.6L861.9 825.9L863.4 822.1L864.8 818.2L866.1 814.2L867.3 810.2L868.6 806.2L869.8 802.2L871 798.3L872.1 794.3L873.3 790.4L874.4 786.4L875.6 782.5L876.7 778.6L877.8 774.7L878.8 770.8L879.9 766.9L881 763L882 759.2L883 755.3L884.1 751.4L885.1 747.6L886.1 743.7L887 739.9L888 736L889 732.2L889.9 728.3L890.9 724.5L891.8 720.6L892.8 716.8L893.7 713L894.7 709.1L895.6 705.3L896.5 701.5L897.4 697.6L898.3 693.8L899.2 689.9L900.2 686.1L901.1 682.2L902 678.4L902.9 674.5L903.8 670.7L904.7 666.8L905.6 662.9L906.5 659L907.5 655.2L908.4 651.3L909.3 647.4L910.2 643.4L911.2 639.5L912.1 635.6L913.1 631.7L914 627.7L915 623.8L916 619.8L917 615.9L918.1 611.9L919.2 608L920.4 604.1L921.6 600.2L922.9 596.4L924.2 592.6L925.7 588.8L927.2 585.1L928.8 581.4L930.5 577.7L932.3 574.2L934.2 570.6L936.3 567.2L938.4 563.8L940.7 560.5L943.2 557.3L945.8 554.2L948.5 551.2L951.4 548.7L954.4 546.7L957.5 545.3L960.7 544.9L964.1 545.5L967.5 547.1L970.9 549.5L974.2 552.5L977.3 556L980.3 559.7L982.9 563.4L985.2 567.1L987.2 570.6L988.9 574.1L990.5 577.4L992 580.8L993.5 584.2L994.9 587.7L996.5 591.3L998 594.9L999.5 598.5L1001.1 602.2L1002.7 605.9L1004.3 609.6L1005.9 613.4L1007.4 617.2L1009 621L1010.6 624.8L1012.2 628.6L1013.7 632.3L1015.2 636.1L1016.7 639.9L1018.2 643.6L1019.7 647.3L1021.2 651L1022.7 654.7L1024.2 658.4L1025.7 662.1L1027.2 665.7L1028.7 669.4L1030.2 673L1031.7 676.7L1033.3 680.3L1034.8 683.9L1036.4 687.5L1038.1 691.1L1039.7 694.7L1041.4 698.3L1043.2 701.9L1044.9 705.4L1046.8 709L1048.6 712.6L1050.5 716.2L1052.5 719.7L1054.6 723.3L1056.6 726.9L1058.8 730.4L1061 734L1063.3 737.5L1065.7 741.1L1068.2 744.5L1070.8 747.7L1073.5 750.3L1076.5 752.2L1079.6 753.2L1083.1 753.2L1086.7 752.1L1090.2 750.2L1093.4 747.9L1096.2 745.2L1098.8 742.2L1101 738.9L1103 735.4L1104.8 731.7L1106.4 727.8L1107.8 723.9L1109.2 719.9L1110.5 715.8L1111.8 711.9L1113 707.9L1114.3 704L1115.5 700.2L1116.7 696.4L1117.9 692.6L1119.1 688.8L1120.3 685.1L1121.5 681.3L1122.6 677.5L1123.7 673.7L1124.8 669.9L1125.8 666.1L1126.9 662.3L1127.9 658.5L1128.9 654.6L1129.9 650.8L1130.9 646.9L1131.8 643.1L1132.8 639.2L1133.8 635.3L1134.7 631.5L1135.7 627.6L1136.6 623.7L1137.6 619.8L1138.5 615.9L1139.5 612L1140.5 608.2L1141.4 604.3L1142.4 600.4L1143.4 596.5L1144.4 592.6L1145.4 588.7L1146.4 584.8L1147.4 581L1148.5 577.1L1149.6 573.2L1150.7 569.4L1151.8 565.5L1152.9 561.7L1154.1 557.8L1155.3 554L1156.5 550.2L1157.8 546.3L1159 542.5L1160.4 538.7L1161.7 535L1163.1 531.2L1164.5 527.4L1166 523.7L1167.5 519.9L1169 516.2L1170.6 512.5L1172.3 508.8L1174 505.1L1175.8 501.5L1177.7 498L1179.7 494.5L1182 491.3L1184.4 488.2L1187.2 485.3L1190.2 482.7L1193.5 480.4L1197.2 478.5L1201 477.1L1204.8 476.3L1208.5 476.5L1211.9 477.5L1215.2 479.2L1218.2 481.5L1221.1 484.3L1223.8 487.5L1226.4 490.8L1228.8 494.3L1231.1 497.8L1233.3 501.4L1235.3 504.9L1237.3 508.6L1239.1 512.2L1240.8 515.8L1242.5 519.5L1244 523.2L1245.5 527L1246.8 530.7L1248.1 534.5L1249.4 538.2L1250.6 542.1L1251.7 545.9L1252.7 549.7L1253.8 553.5L1254.7 557.4L1255.7 561.3L1256.6 565.1L1257.5 569L1258.4 572.9L1259.2 576.8L1260.1 580.7L1261 584.6L1261.8 588.5L1262.7 592.4L1263.6 596.3L1264.4 600.2L1265.3 604.1L1266.2 608L1267.1 611.9L1268 615.8L1268.8 619.7L1269.7 623.6L1270.6 627.5L1271.5 631.4L1272.4 635.3L1273.3 639.2L1274.2 643.1L1275 647L1275.9 650.9L1276.8 654.8L1277.7 658.7L1278.6 662.6L1279.5 666.5L1280.4 670.4L1281.3 674.4L1282.2 678.3L1283.1 682.2L1284 686.1L1284.9 690L1285.8 693.9L1286.7 697.8L1287.6 701.7L1288.6 705.6L1289.5 709.5L1290.4 713.4L1291.3 717.3L1292.2 721.2L1293.2 725.1L1294.1 729L1295 732.9L1296 736.8L1296.9 740.7L1297.9 744.6L1298.8 748.5L1299.8 752.4L1300.7 756.3L1301.7 760.1L1302.7 764L1303.6 767.9L1304.6 771.8L1305.6 775.7L1306.6 779.6L1307.6 783.5L1308.6 787.3L1309.6 791.2L1310.6 795.1L1311.6 799L1312.6 802.8L1313.7 806.7L1314.7 810.6L1315.7 814.4L1316.8 818.3L1317.8 822.2L1318.9 826L1320 829.9L1321 833.7L1322.1 837.6L1323.2 841.4L1324.3 845.3L1325.4 849.1L1326.5 853L1327.6 856.8L1328.7 860.7L1329.9 864.5L1331 868.3L1332.2 872.2L1333.3 876L1334.5 879.8L1335.7 883.6L1336.8 887.5L1338 891.3L1339.2 895.1L1340.4 898.9L1341.7 902.7L1342.9 906.5L1344.1 910.3L1345.4 914.1L1346.6 917.9L1347.9 921.7L1349.2 925.5L1350.5 929.3L1351.8 933.1L1353.1 936.8L1354.4 940.6L1355.7 944.4L1357.1 948.1L1358.4 951.9L1359.8 955.7L1361.1 959.4L1362.5 963.2L1363.9 966.9L1365.3 970.7L1366.7 974.4L1368.2 978.1L1369.6 981.9L1371.1 985.6L1372.5 989.3L1374 993.1L1375.4 996.8L1376.9 1000.5L1378.4 1004.3L1379.8 1008L1381.3 1011.7L1382.8 1015.5L1384.3 1019.2L1385.7 1022.9L1387.2 1026.7L1388.7 1030.4L1390.1 1034.2L1391.6 1037.9L1393.1 1041.7L1394.5 1045.4L1396 1049.2L1397.5 1052.9L1399.1 1056.6L1400.7 1060.3L1402.5 1063.9L1404.4 1067.4L1406.5 1070.8L1408.7 1074.1L1411.2 1077.3L1414 1080.3L1417 1083.1L1420.2 1085.6L1423.6 1087.5L1427.1 1088.6L1430.5 1088.6L1434 1087.4L1437.3 1085.2L1440.4 1082.3L1443.2 1079.2L1445.8 1075.9L1448.2 1072.5L1450.4 1069L1452.4 1065.5L1454.2 1061.9L1456 1058.2L1457.6 1054.5L1459.1 1050.8L1460.6 1047L1462.1 1043.3L1463.6 1039.6L1465.1 1035.9L1466.6 1032.3L1468.2 1028.6L1469.8 1025L1471.4 1021.5L1473.1 1017.9L1474.9 1014.4L1476.8 1010.9L1478.7 1007.5L1480.8 1004.1L1482.9 1000.7L1485.2 997.3L1487.6 994L1490.1 990.7L1492.8 987.4L1495.6 984.2L1498.6 981.2L1501.7 978.5L1504.9 976.3L1508.2 974.7L1511.7 974L1515.2 974.1L1518.9 974.9L1522.6 976.4L1526.4 978.3L1530.2 980.5L1534.1 982.7L1537.9 984.7L1541.8 986.5L1545.7 987.7L1549.6 988.3L1553.4 988.1L1557.1 987.2L1560.8 985.8L1564.2 984L1567.5 981.9L1570.6 979.5L1573.4 976.9L1576.1 974.1L1578.5 971.1L1580.8 968L1582.9 964.7L1584.9 961.3L1586.7 957.7L1588.3 954.1L1589.9 950.4L1591.4 946.6L1592.7 942.7L1594 938.7L1595.2 934.8L1596.4 930.8L1597.5 926.8L1598.5 922.8L1599.6 918.8L1600.6 914.9L1601.6 910.9L1602.6 907L1603.5 903L1604.5 899.1L1605.4 895.2L1606.3 891.3L1607.2 887.4L1608.1 883.5L1609 879.6L1609.9 875.8L1610.8 871.9L1611.7 868L1612.5 864.2L1613.4 860.3L1614.3 856.5L1615.2 852.6L1616.1 848.8L1617.1 844.9L1618 841.1L1618.9 837.2L1619.9 833.4L1620.9 829.5L1621.9 825.7L1622.9 821.8L1623.9 817.9L1624.9 814.1L1626 810.2L1627 806.4L1628.1 802.5L1629.1 798.7L1630.2 794.8L1631.3 791L1632.4 787.1L1633.5 783.3L1634.6 779.4L1635.7 775.6L1636.9 771.7L1638 767.9L1639.1 764L1640.3 760.2L1641.4 756.3L1642.6 752.4L1643.7 748.6L1644.9 744.7L1646 740.9L1647.2 737L1648.3 733.2L1649.5 729.3L1650.6 725.5L1651.8 721.6L1652.9 717.8L1654.1 713.9L1655.2 710.1L1656.4 706.2L1657.5 702.4L1658.7 698.5L1659.8 694.7L1660.9 690.8L1662.1 687L1663.2 683.1L1664.3 679.3L1665.4 675.4L1666.5 671.6L1667.6 667.7L1668.6 663.9L1669.7 660L1670.8 656.2L1671.8 652.4L1672.9 648.5L1674 644.7L1675.1 640.8L1676.2 637L1677.3 633.2L1678.4 629.4L1679.5 625.6L1680.6 621.7L1681.8 617.9L1683 614.1L1684.2 610.3L1685.4 606.6L1686.6 602.8L1687.9 599L1689.2 595.2L1690.6 591.5L1692 587.7L1693.4 584L1694.8 580.3L1696.3 576.5L1697.9 572.8L1699.5 569.1L1701.1 565.4L1702.8 561.7L1704.5 558.1L1706.3 554.4L1708.2 550.8L1710.1 547.1L1712 543.5L1714.1 539.9L1716.2 536.3L1718.3 532.8L1720.6 529.2L1722.9 525.8L1725.3 522.6L1727.8 519.7L1730.5 517.1L1733.3 514.9L1736.2 513.2L1739.3 512.1L1742.6 511.7L1746 512L1749.6 513.1L1753.3 514.8L1757 517L1760.6 519.7L1764 522.8L1767.2 526.1L1770 529.5L1772.5 533L1774.7 536.5L1776.7 540.2L1778.5 543.8L1780.2 547.4L1781.8 551.1L1783.4 554.6L1785.1 558.1L1786.9 561.6L1788.8 564.9L1791 568.1L1793.4 571.1L1796.1 574L1799.3 576.7L1802.7 579.1L1806.3 581.1L1809.9 582.5L1813.6 583.3L1817 583.4L1820.3 582.6L1823.4 581.2L1826.3 579.1L1829 576.5L1831.6 573.5L1834 570L1836.3 566.3L1838.4 562.3L1840.5 558.1L1842.4 553.9L1844.3 549.7L1846 545.6L1847.7 541.7L1849.4 538L1851 534.6L1852.5 531.6L1854 529.1L1857 526.6L1857 508.4L1872.4 492.1L1872.4 476.2L1887.9 466.1L1887.9 454.8L1903.3 448.5L1903.3 442.2L1918.7 438.4L1934.2 435.9L1949.6 437.1L1949.6 442.2L1965 449.2L1965 459.8L1980.5 474.9L1980.5 496.4L1995.9 522.8L1995.9 555.6L2011.4 588.3L2011.4 628.6L2026.8 665.2L2026.8 708L2042.2 743.3L2042.2 776L2057.7 801.2L2057.7 821.4L2073.1 834L2073.1 839L2088.5 839L2104 834.5L2104 822.6L2119.4 807.5L2119.4 784.8L2134.8 755.9L2134.8 718.1L2150.3 680.3L2150.3 632.4L2165.7 588.3L2165.7 540.4L2181.1 502.7L2181.1 471.2L2196.6 454.8L2196.6 444.7L2212 453L2212 472.4L2227.4 493.8L2227.4 527.8L2242.9 554.3L2258.3 582L2258.3 606L2273.7 618.6L2273.7 627.4"/>
<path stroke="#00aa00" d="M386.8 1103.6L389.1 1100.3L391.1 1096.9L392.9 1093.5L394.6 1089.9L396.1 1086.3L397.5 1082.6L398.8 1078.8L399.9 1075L400.9 1071.2L401.9 1067.3L402.8 1063.3L403.6 1059.4L404.4 1055.4L405.1 1051.5L405.9 1047.5L406.6 1043.6L407.3 1039.6L408 1035.6L408.7 1031.7L409.4 1027.7L410.1 1023.8L410.7 1019.8L411.4 1015.9L412 1011.9L412.6 1008L413.2 1004L413.8 1000L414.4 996.1L415 992.1L415.6 988.2L416.2 984.2L416.7 980.3L417.3 976.3L417.8 972.4L418.4 968.4L419 964.4L419.5 960.5L420 956.5L420.6 952.6L421.1 948.6L421.7 944.6L422.2 940.7L422.7 936.7L423.2 932.7L423.8 928.8L424.3 924.8L424.8 920.8L425.3 916.9L425.8 912.9L426.3 908.9L426.9 905L427.4 901L427.9 897L428.4 893.1L428.8 889.1L429.3 885.1L429.8 881.1L430.3 877.2L430.8 873.2L431.3 869.2L431.7 865.2L432.2 861.3L432.7 857.3L433.1 853.3L433.6 849.3L434.1 845.3L434.5 841.4L435 837.4L435.4 833.4L435.9 829.4L436.3 825.4L436.8 821.5L437.2 817.5L437.6 813.5L438.1 809.5L438.5 805.5L438.9 801.6L439.3 797.6L439.8 793.6L440.2 789.6L440.6 785.6L441 781.6L441.4 777.6L441.8 773.7L442.2 769.7L442.6 765.7L443 761.7L443.4 757.7L443.8 753.7L444.1 749.7L444.5 745.8L444.9 741.8L445.3 737.8L445.7 733.8L446.1 729.8L446.5 725.8L446.9 721.9L447.2 717.9L447.6 713.9L448 709.9L448.4 705.9L448.8 701.9L449.2 698L449.6 694L450 690L450.5 686L450.9 682L451.3 678.1L451.7 674.1L452.2 670.1L452.6 666.1L453.1 662.2L453.5 658.2L454 654.2L454.5 650.2L455 646.3L455.4 642.3L455.9 638.3L456.4 634.4L457 630.4L457.5 626.4L458 622.5L458.6 618.5L459.1 614.5L459.7 610.6L460.3 606.6L460.9 602.7L461.5 598.7L462.1 594.8L462.7 590.8L463.4 586.9L464 582.9L464.7 579L465.4 575L466.1 571.1L466.8 567.2L467.5 563.2L468.3 559.3L469.1 555.3L469.8 551.4L470.6 547.5L471.5 543.6L472.3 539.6L473.2 535.7L474 531.8L474.9 527.9L475.8 524L476.8 520L477.7 516.1L478.7 512.2L479.7 508.3L480.8 504.5L482 500.7L483.5 497L485.1 493.4L487.1 490L489.4 486.8L492.1 483.7L495.2 480.9L498.7 478.8L502.4 477.6L506.2 477.9L509.9 479.4L513.5 481.7L516.7 484.3L519.7 487.1L522.5 490L525.3 493L528.1 495.8L531.1 498.6L534.2 501.2L537.4 503.5L540.7 505.7L544.2 507.6L547.8 509.2L551.5 510.4L555.3 511.3L559.2 511.7L563.2 511.6L567.1 510.9L570.8 509.4L574.4 507.2L577.9 504.4L581.3 501.2L584.5 497.9L587.8 494.6L591 491.5L594.2 488.8L597.5 486.6L600.9 485.3L604.3 484.8L607.9 485.5L611.5 487L614.9 489.2L618 491.6L620.8 494.2L623.4 497L625.7 500L627.7 503.2L629.6 506.6L631.2 510.1L632.7 513.7L634 517.5L635.2 521.3L636.3 525.3L637.3 529.2L638.2 533.3L639 537.3L639.9 541.4L640.7 545.4L641.5 549.5L642.3 553.5L643.1 557.5L643.9 561.6L644.8 565.5L645.6 569.5L646.4 573.5L647.2 577.5L648 581.4L648.8 585.4L649.6 589.3L650.5 593.2L651.3 597.2L652.1 601.1L652.9 605L653.7 608.9L654.4 612.8L655.2 616.7L656 620.6L656.8 624.5L657.6 628.4L658.3 632.3L659.1 636.2L659.9 640.1L660.7 643.9L661.4 647.8L662.2 651.7L663 655.6L663.8 659.5L664.6 663.3L665.4 667.2L666.2 671.1L667 675L667.8 678.8L668.6 682.7L669.5 686.6L670.3 690.4L671.2 694.3L672.1 698.2L673 702L673.9 705.9L674.8 709.8L675.7 713.6L676.7 717.5L677.6 721.4L678.6 725.2L679.7 729.1L680.7 733L681.7 736.8L682.8 740.7L683.9 744.6L685.1 748.4L686.2 752.3L687.4 756.2L688.6 760L689.8 763.9L691.1 767.8L692.4 771.7L693.7 775.5L695.1 779.4L696.4 783.3L697.9 787.2L699.3 791.1L700.8 794.9L702.3 798.8L703.9 802.7L705.6 806.4L707.4 810.1L709.2 813.6L711.3 817L713.4 820.2L715.8 823.1L718.3 825.7L721 828.1L724 830.1L727.2 831.7L730.7 832.9L734.4 833.7L738.2 834.1L742.1 834.1L746.2 833.7L750.2 832.9L754.3 831.8L758.4 830.4L762.5 829.1L766.5 827.7L770.5 826.6L774.4 825.7L778.3 825.1L782 825.1L785.6 825.7L789.1 826.8L792.5 828.4L795.8 830.3L798.9 832.7L801.9 835.4L804.9 838.3L807.7 841.3L810.5 844.5L813.1 847.8L815.6 851.1L818.1 854.4L820.4 857.8L822.7 861.2L824.9 864.6L827 868L829 871.5L831 875L832.9 878.5L834.7 882.1L836.4 885.6L838.1 889.2L839.7 892.8L841.3 896.5L842.8 900.1L844.3 903.8L845.7 907.5L847.1 911.2L848.4 915L849.7 918.7L851 922.5L852.3 926.2L853.5 930L854.6 933.8L855.8 937.6L857 941.5L858.1 945.3L859.2 949.1L860.3 953L861.4 956.8L862.5 960.7L863.6 964.5L864.7 968.4L865.8 972.3L866.9 976.2L867.9 980L869 983.9L870.1 987.8L871.2 991.7L872.3 995.5L873.4 999.4L874.5 1003.3L875.6 1007.2L876.8 1011L877.9 1014.9L879 1018.7L880.2 1022.6L881.3 1026.4L882.5 1030.2L883.6 1034.1L884.8 1037.9L886 1041.7L887.2 1045.4L888.4 1049.2L889.7 1053L890.9 1056.8L892.2 1060.5L893.5 1064.3L894.9 1068L896.2 1071.7L897.6 1075.5L899.1 1079.2L900.6 1082.9L902.1 1086.6L903.7 1090.4L905.3 1094.1L907 1097.8L908.7 1101.5L910.5 1105.2L912.5 1108.8L914.7 1112.2L917.1 1115.3L919.8 1118.2L922.8 1120.8L926.3 1122.8L929.9 1124.1L933.6 1123.9L937.1 1122.4L940.2 1119.9L942.9 1117L945.2 1113.7L947.3 1110.2L949.2 1106.6L951.1 1103L952.8 1099.3L954.5 1095.6L956.1 1091.9L957.6 1088.1L959.1 1084.4L960.5 1080.6L961.8 1076.8L963.1 1073L964.4 1069.1L965.6 1065.3L966.8 1061.4L967.9 1057.6L969 1053.8L970.2 1049.9L971.3 1046.1L972.4 1042.3L973.5 1038.5L974.6 1034.7L975.7 1030.9L976.8 1027.2L977.9 1023.4L979.1 1019.7L980.3 1015.9L981.5 1012.2L982.7 1008.4L984 1004.7L985.3 1000.9L986.6 997.1L988 993.3L989.4 989.4L990.9 985.6L992.5 981.7L994.1 977.8L995.7 973.8L997.5 969.9L999.4 966.1L1001.5 962.7L1003.9 959.7L1006.7 957.4L1010 955.9L1013.7 955.4L1017.5 955.9L1020.9 957.3L1023.8 959.4L1026.3 962.2L1028.4 965.4L1030.2 969.1L1031.9 973L1033.4 976.9L1034.9 980.9L1036.3 984.9L1037.7 988.8L1039.1 992.7L1040.4 996.6L1041.7 1000.5L1042.9 1004.3L1044.1 1008.2L1045.3 1012L1046.5 1015.8L1047.6 1019.6L1048.7 1023.4L1049.8 1027.2L1050.8 1031L1051.9 1034.8L1052.9 1038.7L1053.8 1042.5L1054.8 1046.3L1055.8 1050.1L1056.7 1054L1057.6 1057.8L1058.5 1061.7L1059.4 1065.6L1060.3 1069.4L1061.1 1073.3L1062 1077.2L1062.8 1081.1L1063.6 1085L1064.5 1089L1065.3 1092.9L1066.1 1096.8L1066.9 1100.8L1067.7 1104.7L1068.4 1108.6L1069.2 1112.6L1070 1116.5L1070.8 1120.5L1071.5 1124.4L1072.3 1128.4L1073.1 1132.3L1073.9 1136.3L1074.6 1140.2L1075.4 1144.2L1076.2 1148.1L1077 1152.1L1077.8 1156L1078.6 1160L1079.4 1163.9L1080.2 1167.8L1081 1171.8L1081.8 1175.7L1082.6 1179.6L1083.4 1183.5L1084.3 1187.4L1085.1 1191.3L1086 1195.2L1086.8 1199.1L1087.7 1203L1088.5 1206.9L1089.4 1210.8L1090.3 1214.7L1091.2 1218.6L1092.1 1222.5L1093 1226.4L1093.9 1230.3L1094.8 1234.2L1095.7 1238L1096.6 1241.9L1097.5 1245.8L1098.5 1249.7L1099.4 1253.6L1100.3 1257.5L1101.3 1261.4L1102.2 1265.2L1103.2 1269.1L1104.2 1273L1105.1 1276.9L1106.1 1280.8L1107.1 1284.7L1108.1 1288.6L1108.1 1288.6L1117.4 1303L1124.9 1308.2L1133.1 1298L1137.4 1286.1L1137.4 1286.1L1138.4 1282.2L1139.4 1278.3L1140.4 1274.5L1141.3 1270.6L1142.3 1266.7L1143.2 1262.8L1144.1 1258.9L1145.1 1255L1146 1251.1L1146.9 1247.2L1147.8 1243.3L1148.7 1239.4L1149.6 1235.5L1150.4 1231.6L1151.3 1227.7L1152.2 1223.8L1153 1219.9L1153.9 1216L1154.7 1212.1L1155.5 1208.2L1156.3 1204.3L1157.2 1200.4L1158 1196.5L1158.8 1192.6L1159.6 1188.6L1160.4 1184.7L1161.2 1180.8L1162 1176.9L1162.8 1173L1163.5 1169.1L1164.3 1165.1L1165.1 1161.2L1165.8 1157.3L1166.6 1153.4L1167.4 1149.5L1168.1 1145.5L1168.9 1141.6L1169.6 1137.7L1170.3 1133.7L1171.1 1129.8L1171.8 1125.9L1172.6 1122L1173.3 1118L1174 1114.1L1174.8 1110.2L1175.5 1106.2L1176.2 1102.3L1176.9 1098.4L1177.6 1094.4L1178.4 1090.5L1179.1 1086.6L1179.8 1082.6L1180.5 1078.7L1181.2 1074.7L1181.9 1070.8L1182.7 1066.9L1183.4 1062.9L1184.1 1059L1184.8 1055.1L1185.5 1051.1L1186.2 1047.2L1186.9 1043.3L1187.7 1039.3L1188.4 1035.4L1189.1 1031.4L1189.8 1027.5L1190.5 1023.6L1191.2 1019.6L1192 1015.7L1192.7 1011.8L1193.4 1007.8L1194.1 1003.9L1194.9 1000L1195.6 996L1196.3 992.1L1197.1 988.2L1197.8 984.3L1198.5 980.3L1199.3 976.4L1200 972.5L1200.8 968.6L1201.5 964.6L1202.3 960.7L1203.1 956.8L1203.8 952.9L1204.6 948.9L1205.4 945L1206.1 941.1L1206.9 937.2L1207.7 933.3L1208.5 929.4L1209.3 925.4L1210.1 921.5L1210.9 917.6L1211.7 913.7L1212.5 909.8L1213.3 905.9L1214.1 902L1214.8 898.1L1215.7 894.1L1216.5 890.2L1217.3 886.3L1218.1 882.4L1218.9 878.5L1219.7 874.6L1220.5 870.7L1221.3 866.8L1222.1 862.8L1222.9 858.9L1223.7 855L1224.5 851.1L1225.2 847.2L1226 843.3L1226.8 839.3L1227.6 835.4L1228.4 831.5L1229.2 827.6L1230 823.7L1230.7 819.7L1231.5 815.8L1232.3 811.9L1233.1 807.9L1233.8 804L1234.6 800.1L1235.3 796.1L1236.1 792.2L1236.8 788.3L1237.6 784.3L1238.3 780.4L1239.1 776.4L1239.8 772.5L1240.5 768.5L1241.2 764.6L1241.9 760.6L1242.7 756.7L1243.4 752.7L1244.1 748.8L1244.9 744.8L1245.6 740.9L1246.4 737L1247.2 733L1248 729.1L1248.8 725.2L1249.6 721.2L1250.5 717.3L1251.4 713.4L1252.3 709.5L1253.2 705.6L1254.2 701.8L1255.2 697.9L1256.2 694.1L1257.3 690.2L1258.4 686.4L1259.5 682.6L1260.7 678.8L1261.9 675L1263.2 671.2L1264.6 667.4L1265.9 663.7L1267.4 660L1268.8 656.3L1270.4 652.6L1272 648.9L1273.7 645.3L1275.5 641.8L1277.5 638.4L1279.8 635.3L1282.4 632.5L1285.4 629.9L1288.8 627.8L1292.6 626.1L1296.5 624.4L1300.3 622.7L1303.9 620.6L1307 618.2L1309.9 615.5L1312.5 612.5L1314.9 609.4L1317.1 606.1L1319.2 602.7L1321.2 599.2L1323.1 595.7L1324.9 592.2L1326.6 588.7L1328.3 585.1L1329.9 581.5L1331.5 577.9L1332.9 574.2L1334.4 570.5L1335.7 566.8L1337.1 563.1L1338.4 559.4L1339.6 555.6L1340.8 551.8L1342 548.1L1343.1 544.2L1344.3 540.4L1345.4 536.6L1346.5 532.7L1347.6 528.9L1348.6 525L1349.7 521.1L1350.8 517.2L1351.8 513.3L1352.9 509.4L1354 505.5L1355.1 501.6L1356.3 497.6L1357.4 493.7L1358.6 489.8L1359.8 485.9L1361 481.9L1362.3 478L1363.7 474.1L1365.1 470.3L1366.6 466.5L1368.3 462.8L1370 459.2L1372 455.7L1374.1 452.3L1376.3 449.1L1378.8 446L1381.5 443.1L1384.4 440.5L1387.5 438.2L1390.9 436.6L1394.4 436L1398.1 436.3L1401.8 437.3L1405.4 438.9L1408.8 441L1412 443.3L1415 445.8L1417.7 448.6L1420.3 451.6L1422.7 454.7L1425 457.9L1427.2 461.3L1429.3 464.8L1431.4 468.3L1433.5 471.9L1435.6 475.5L1437.8 479.1L1440 482.6L1442.3 486.1L1444.8 489.5L1447.3 492.8L1450 495.9L1452.9 498.8L1455.9 501.5L1459.1 503.9L1462.5 505.9L1466.1 507.6L1469.8 508.8L1473.4 509.2L1476.9 508.7L1480.3 507.5L1483.6 505.7L1486.9 503.5L1490 500.9L1493 498.2L1496 495.5L1499 492.7L1501.9 489.9L1504.7 487L1507.5 484.1L1510.2 481.2L1513 478.2L1515.6 475.2L1518.3 472.2L1520.9 469.1L1523.5 466.1L1526.1 463L1528.7 459.9L1531.2 456.8L1533.8 453.8L1536.3 450.7L1538.9 447.6L1541.4 444.5L1544 441.4L1546.5 438.4L1549.1 435.3L1551.7 432.3L1554.3 429.2L1556.9 426.2L1559.5 423.2L1562.1 420.2L1564.7 417.2L1567.3 414.2L1570 411.2L1572.6 408.2L1575.3 405.3L1578 402.3L1580.7 399.3L1583.4 396.4L1586.1 393.4L1588.8 390.5L1591.6 387.6L1594.3 384.6L1597.1 381.7L1599.9 378.8L1602.8 375.9L1605.6 373L1608.5 370.2L1611.5 367.5L1614.6 365.1L1617.9 363L1621.3 361.3L1625 360.1L1628.9 359.4L1633 359.1L1637.1 359.4L1641.2 360L1645.1 361L1648.9 362.3L1652.5 363.9L1655.9 365.7L1659.3 367.8L1662.5 370L1665.7 372.4L1668.8 375L1671.9 377.6L1674.9 380.3L1678 383.1L1681.1 385.9L1684.2 388.6L1687.3 391.2L1690.6 393.7L1693.9 396.1L1697.2 398.2L1700.7 400.1L1704.3 401.6L1708 402.9L1711.7 403.8L1715.6 404.4L1719.5 404.6L1723.4 404.6L1727.3 404.3L1731.3 403.6L1735.2 402.7L1739.1 401.5L1742.9 400L1746.6 398.3L1750.4 396.5L1754.1 394.8L1757.8 393.1L1761.5 391.8L1765.3 390.7L1769 390.1L1772.9 390.1L1776.7 390.7L1780.6 391.8L1784.4 393.2L1788 395L1791.5 397L1794.9 399.1L1798.2 401.4L1801.4 403.8L1804.6 406.3L1807.7 408.9L1810.8 411.4L1814 414L1817.2 416.5L1820.4 419L1823.7 421.3L1827 423.5L1830.4 425.6L1833.8 427.5L1837.4 429.2L1841 430.6L1844.6 431.8L1848.3 432.7L1852.1 433.2L1856 433.5L1860 433.3L1864.1 432.8L1868.2 431.8L1872.5 430.3L1887.9 431.3L1887.9 434.6L1903.3 440.9L1903.3 449.7L1918.7 459.8L1934.2 469.9L1934.2 483.8L1949.6 495.1L1949.6 508.9L1965 520.3L1965 535.4L1980.5 545.5L1980.5 559.3L1995.9 569.4L1995.9 577L2011.4 581.5L2026.8 578.2L2026.8 570.7L2042.2 561.9L2042.2 545.5L2057.7 531.6L2057.7 512.7L2073.1 496.4L2073.1 480L2088.5 463.6L2104 449.7L2104 437.1L2119.4 428.3L2119.4 418.2L2134.8 411.9L2134.8 405.6L2150.3 400.6L2150.3 396.8L2165.7 394.3L2181.1 392.5L2184.1 392.5"/>
</g>
<g stroke="#000" stroke-width="2" shape-rendering="crispEdges">
<line x1="226.6" y1="898" x2="2377" y2="896" stroke-dasharray="30 26.26"/>
<line x1="676.9" y1="48" x2="673" y2="1371" stroke-dasharray="5.6 11.97" stroke-dashoffset="14.55"/>
<line x1="1008.9" y1="48" x2="1005.9" y2="1371" stroke-dasharray="5.6 11.97" stroke-dashoffset="3.95"/>
<line x1="1240.7" y1="48" x2="1237.9" y2="1371" stroke-dasharray="5.6 11.97" stroke-dashoffset="5.18"/>
<line x1="1458.2" y1="48" x2="1455" y2="1371" stroke-dasharray="5.6 11.97" stroke-dashoffset="0.75"/>
<line x1="1705.9" y1="48" x2="1702.3" y2="1371" stroke-dasharray="5.6 11.97" stroke-dashoffset="10.75"/>
</g>
<g fill="#000" shape-rendering="crispEdges">
<path fill-rule="evenodd" d="M220 40H2383V1379H220ZM228 48H2375V1371H228Z"/>
<rect x="232.3" y="1365.5" width="8" height="5.5"/><rect x="232.3" y="48" width="8" height="5.5"/>
<rect x="309.5" y="1360" width="8" height="11"/><rect x="309.5" y="48" width="8" height="11"/>
<rect x="386.7" y="1365.5" width="8" height="5.5"/><rect x="386.7" y="48" width="8" height="5.5"/>
<rect x="463.9" y="1365.5" width="8" height="5.5"/><rect x="463.9" y="48" width="8" height="5.5"/>
<rect x="541" y="1365.5" width="8" height="5.5"/><rect x="541" y="48" width="8" height="5.5"/>
<rect x="618.2" y="1360" width="8" height="11"/><rect x="618.2" y="48" width="8" height="11"/>
<rect x="695.4" y="1365.5" width="8" height="5.5"/><rect x="695.4" y="48" width="8" height="5.5"/>
<rect x="772.5" y="1365.5" width="8" height="5.5"/><rect x="772.5" y="48" width="8" height="5.5"/>
<rect x="849.7" y="1365.5" width="8" height="5.5"/><rect x="849.7" y="48" width="8" height="5.5"/>
<rect x="926.9" y="1360" width="8" height="11"/><rect x="926.9" y="48" width="8" height="11"/>
<rect x="1004.1" y="1365.5" width="8" height="5.5"/><rect x="1004.1" y="48" width="8" height="5.5"/>
<rect x="1081.2" y="1365.5" width="8" height="5.5"/><rect x="1081.2" y="48" width="8" height="5.5"/>
<rect x="1158.4" y="1365.5" width="8" height="5.5"/><rect x="1158.4" y="48" width="8" height="5.5"/>
<rect x="1235.6" y="1360" width="8" height="11"/><rect x="1235.6" y="48" width="8" height="11"/>
<rect x="1312.8" y="1365.5" width="8" height="5.5"/><rect x="1312.8" y="48" width="8" height="5.5"/>
<rect x="1390" y="1365.5" width="8" height="5.5"/><rect x="1390" y="48" width="8" height="5.5"/>
<rect x="1467.1" y="1365.5" width="8" height="5.5"/><rect x="1467.1" y="48" width="8" height="5.5"/>
<rect x="1544.3" y="1360" width="8" height="11"/><rect x="1544.3" y="48" width="8" height="11"/>
<rect x="1621.5" y="1365.5" width="8" height="5.5"/><rect x="1621.5" y="48" width="8" height="5.5"/>
<rect x="1698.7" y="1365.5" width="8" height="5.5"/><rect x="1698.7" y="48" width="8" height="5.5"/>
<rect x="1775.8" y="1365.5" width="8" height="5.5"/><rect x="1775.8" y="48" width="8" height="5.5"/>
<rect x="1853" y="1360" width="8" height="11"/><rect x="1853" y="48" width="8" height="11"/>
<rect x="1930.2" y="1365.5" width="8" height="5.5"/><rect x="1930.2" y="48" width="8" height="5.5"/>
<rect x="2007.4" y="1365.5" width="8" height="5.5"/><rect x="2007.4" y="48" width="8" height="5.5"/>
<rect x="2084.5" y="1365.5" width="8" height="5.5"/><rect x="2084.5" y="48" width="8" height="5.5"/>
<rect x="2161.7" y="1360" width="8" height="11"/><rect x="2161.7" y="48" width="8" height="11"/>
<rect x="2238.9" y="1365.5" width="8" height="5.5"/><rect x="2238.9" y="48" width="8" height="5.5"/>
<rect x="2316.1" y="1365.5" width="8" height="5.5"/><rect x="2316.1" y="48" width="8" height="5.5"/>
<rect x="228" y="1329.9" width="11" height="8"/><rect x="2364" y="1329.9" width="11" height="8"/>
<rect x="228" y="1286.1" width="5.5" height="8"/><rect x="2369.5" y="1286.1" width="5.5" height="8"/>
<rect x="228" y="1242.3" width="5.5" height="8"/><rect x="2369.5" y="1242.3" width="5.5" height="8"/>
<rect x="228" y="1198.5" width="5.5" height="8"/><rect x="2369.5" y="1198.5" width="5.5" height="8"/>
<rect x="228" y="1154.7" width="5.5" height="8"/><rect x="2369.5" y="1154.7" width="5.5" height="8"/>
<rect x="228" y="1111" width="11" height="8"/><rect x="2364" y="1111" width="11" height="8"/>
<rect x="228" y="1067.2" width="5.5" height="8"/><rect x="2369.5" y="1067.2" width="5.5" height="8"/>
<rect x="228" y="1023.4" width="5.5" height="8"/><rect x="2369.5" y="1023.4" width="5.5" height="8"/>
<rect x="228" y="979.6" width="5.5" height="8"/><rect x="2369.5" y="979.6" width="5.5" height="8"/>
<rect x="228" y="935.8" width="5.5" height="8"/><rect x="2369.5" y="935.8" width="5.5" height="8"/>
<rect x="228" y="892" width="11" height="8"/><rect x="2364" y="892" width="11" height="8"/>
<rect x="228" y="848.2" width="5.5" height="8"/><rect x="2369.5" y="848.2" width="5.5" height="8"/>
<rect x="228" y="804.4" width="5.5" height="8"/><rect x="2369.5" y="804.4" width="5.5" height="8"/>
<rect x="228" y="760.6" width="5.5" height="8"/><rect x="2369.5" y="760.6" width="5.5" height="8"/>
<rect x="228" y="716.8" width="5.5" height="8"/><rect x="2369.5" y="716.8" width="5.5" height="8"/>
<rect x="228" y="673" width="11" height="8"/><rect x="2364" y="673" width="11" height="8"/>
<rect x="228" y="629.3" width="5.5" height="8"/><rect x="2369.5" y="629.3" width="5.5" height="8"/>
<rect x="228" y="585.5" width="5.5" height="8"/><rect x="2369.5" y="585.5" width="5.5" height="8"/>
<rect x="228" y="541.7" width="5.5" height="8"/><rect x="2369.5" y="541.7" width="5.5" height="8"/>
<rect x="228" y="497.9" width="5.5" height="8"/><rect x="2369.5" y="497.9" width="5.5" height="8"/>
<rect x="228" y="454.1" width="11" height="8"/><rect x="2364" y="454.1" width="11" height="8"/>
<rect x="228" y="410.3" width="5.5" height="8"/><rect x="2369.5" y="410.3" width="5.5" height="8"/>
<rect x="228" y="366.5" width="5.5" height="8"/><rect x="2369.5" y="366.5" width="5.5" height="8"/>
<rect x="228" y="322.7" width="5.5" height="8"/><rect x="2369.5" y="322.7" width="5.5" height="8"/>
<rect x="228" y="278.9" width="5.5" height="8"/><rect x="2369.5" y="278.9" width="5.5" height="8"/>
<rect x="228" y="235.1" width="11" height="8"/><rect x="2364" y="235.1" width="11" height="8"/>
<rect x="228" y="191.4" width="5.5" height="8"/><rect x="2369.5" y="191.4" width="5.5" height="8"/>
<rect x="228" y="147.6" width="5.5" height="8"/><rect x="2369.5" y="147.6" width="5.5" height="8"/>
<rect x="228" y="103.8" width="5.5" height="8"/><rect x="2369.5" y="103.8" width="5.5" height="8"/>
<rect x="228" y="60" width="5.5" height="8"/><rect x="2369.5" y="60" width="5.5" height="8"/>
</g>
<g class="tk" text-anchor="middle">
<text x="313.5" y="1435">0</text><text x="622.2" y="1435">20</text><text x="930.9" y="1435">40</text><text x="1239.6" y="1435">60</text><text x="1548.3" y="1435">80</text><text x="1857" y="1435">100</text><text x="2165.7" y="1435">120</text>
</g>
<g class="tk" text-anchor="end">
<text y="1353.9"><tspan x="161.3">−</tspan><tspan x="212">10</tspan></text><text y="1135"><tspan x="185.3">−</tspan><tspan x="212">5</tspan></text><text x="212" y="916">0</text><text x="212" y="697">5</text><text x="212" y="478.1">10</text><text x="212" y="259.1">15</text>
</g>
<g class="cl">
<text x="445" y="295.8" style="fill:#0000ff">15 T</text>
<text x="314" y="631.3" style="fill:#800080">26 T</text>
<text x="437" y="1023.8" style="fill:#008000">30 T</text>
<text x="375" y="1221.3" style="fill:#ff0000">23 T</text>
</g>
<text><tspan x="660" y="127.5" font-size="57" class="it">θ</tspan><tspan x="686" y="144.9" font-size="42">max1</tspan></text>
<text><tspan x="1217.5" y="124" font-size="57" class="it">θ</tspan><tspan x="1243" y="142.4" font-size="42">max2</tspan></text>
<text><tspan x="1675.5" y="131.5" font-size="57" class="it">θ</tspan><tspan x="1701.5" y="149.9" font-size="42">max90</tspan></text>
<text><tspan x="981" y="1315.5" font-size="57" class="it">θ</tspan><tspan x="1007" y="1331.6" font-size="42">min1</tspan></text>
<text><tspan x="1437.5" y="1312" font-size="57" class="it">θ</tspan><tspan x="1463.5" y="1327.8" font-size="42">min2</tspan></text>
<text><tspan x="1264" y="867.5" font-size="57" class="it">θ</tspan><tspan x="1289.5" y="885" font-size="57" class="it">c</tspan></text>
<text transform="matrix(0.86 0 -0.35 1 1209.5 1520)" x="0" y="0" font-size="61" class="it">θ</text>
<text transform="translate(1262.5 1520) scale(0.985 1)" x="0" y="0" font-size="63.2">(deg)</text>
<g transform="translate(78 850) rotate(-90)"><text transform="scale(1.17 1)" x="0" y="0" font-size="56" class="it">N</text><text x="43" y="-16" font-size="46.5">bac</text><text x="39" y="14" font-size="46.5" class="it">yz</text><text x="112" y="0" font-size="58">(<tspan class="it">μ</tspan>V/K)</text></g>
</svg>
</body></html>
